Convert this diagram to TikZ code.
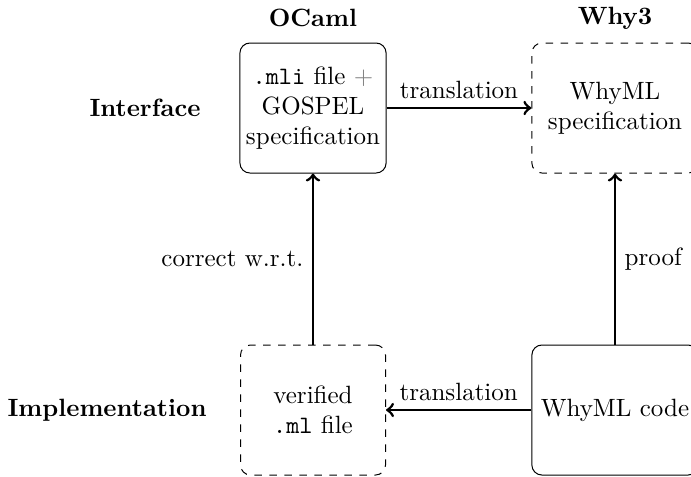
\documentclass[tikz,border=0pt]{standalone}
\usetikzlibrary{positioning}
\begin{document}
\begin{tikzpicture}[x=0.4pt,y=-0.4pt,
  solidbox/.style={draw, rounded corners=4pt, align=center, minimum height=52pt, inner sep=3.5pt},
  dashbox/.style={solidbox, dashed},
  leftcol/.style={minimum width=58pt, inner xsep=2.4pt},
  rightcol/.style={minimum width=66.5pt},
  conn/.style={line width=1.1pt, ->},
  heading/.style={font=\bfseries}]
\useasboundingbox (0,0) rectangle (691,476);
\clip (0,0) rectangle (691,476);
\node[heading] (ocaml) at (313,18) {OCaml};
\node[heading] (why3) at (615,18) {Why3};
\node[heading] (iface) at (145,108) {Interface};
\node[heading] (impl) at (107,410) {Implementation};
\node[solidbox, leftcol] (mli) at (313,108) {\texttt{.mli} file {\color{gray}+}\\GOSPEL\\specification};
\node[dashbox, rightcol] (spec) at (615,108) {WhyML\\specification};
\node[dashbox, leftcol] (ml) at (313,410) {verified\\\texttt{.ml} file};
\node[solidbox, rightcol] (code) at (615,410) {WhyML code};
\draw[conn] (mli) -- node[above] {translation} (spec);
\draw[conn] (code) -- node[above] {translation} (ml);
\draw[conn] (ml) -- node[left] {correct w.r.t.} (mli);
\draw[conn] (code) -- node[right] {proof} (spec);
\end{tikzpicture}
\end{document}
